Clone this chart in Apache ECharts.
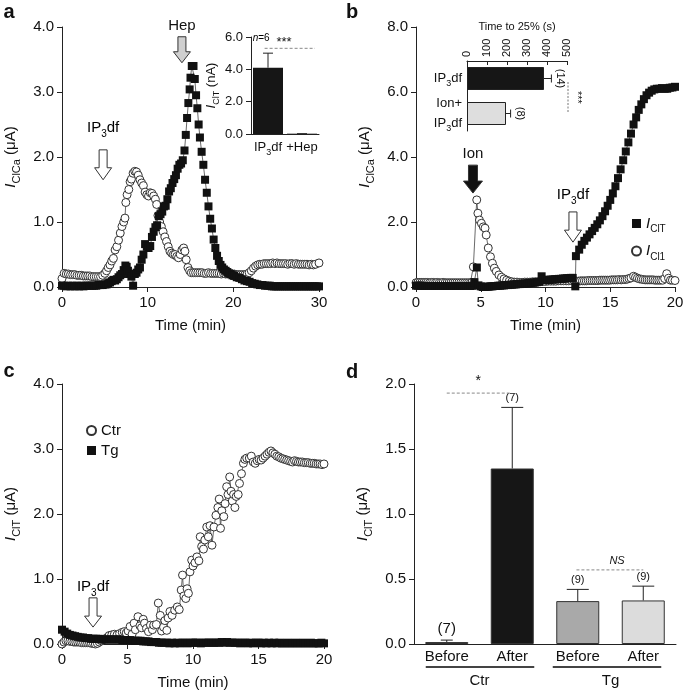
<!DOCTYPE html>
<html><head><meta charset="utf-8">
<script src="https://cdn.jsdelivr.net/npm/echarts@6/dist/echarts.min.js"></script>
<style>html,body{margin:0;padding:0;background:#fff}#c{width:685px;height:695px}</style>
</head><body><div id="c"></div>
<script>
// ---------- DATA ----------
// Panel a: open circles and filled squares (time min, current uA)
const aOpen = [[0,0.13],[0.25,0.21],[0.5,0.2],[0.75,0.2],[1,0.19],[1.25,0.19],[1.5,0.19],[1.75,0.18],[2,0.18],[2.25,0.18],[2.5,0.17],[2.75,0.17],[3,0.17],[3.25,0.17],[3.5,0.16],[3.75,0.16],[4,0.16],[4.25,0.16],[4.5,0.16],[4.75,0.18],[5,0.21],[5.2,0.25],[5.4,0.3],[5.6,0.34],[5.8,0.4],[6,0.44],[6.2,0.57],[6.4,0.62],[6.6,0.72],[6.8,0.83],[7,0.93],[7.2,1.0],[7.35,1.06],[7.45,1.3],[7.6,1.42],[7.8,1.5],[7.95,1.62],[8.1,1.66],[8.3,1.75],[8.5,1.78],[8.7,1.77],[8.9,1.72],[9.1,1.65],[9.3,1.6],[9.5,1.56],[9.7,1.46],[9.9,1.42],[10.1,1.4],[10.3,1.45],[10.5,1.44],[10.7,1.4],[10.9,1.35],[11.05,1.27],[11.2,1.1],[11.4,1.0],[11.6,0.93],[11.8,0.85],[12,0.77],[12.2,0.7],[12.4,0.62],[12.6,0.55],[12.8,0.52],[13,0.5],[13.2,0.5],[13.4,0.47],[13.6,0.45],[13.8,0.5],[14,0.57],[14.2,0.6],[14.35,0.55],[14.5,0.42],[14.7,0.3],[14.9,0.25],[15.1,0.22],[15.35,0.22],[15.6,0.22],[15.85,0.22],[16.1,0.22],[16.35,0.22],[16.6,0.21],[16.85,0.21],[17.1,0.22],[17.35,0.21],[17.6,0.21],[17.85,0.21],[18.1,0.21],[18.35,0.21],[18.6,0.2],[18.85,0.21],[19.1,0.2],[19.35,0.2],[19.6,0.2],[19.85,0.2],[20.1,0.2],[20.35,0.19],[20.6,0.19],[20.85,0.19],[21.1,0.19],[21.35,0.19],[21.6,0.2],[21.85,0.22],[22.1,0.25],[22.35,0.29],[22.6,0.32],[22.85,0.34],[23.1,0.35],[23.35,0.35],[23.6,0.36],[23.85,0.36],[24.1,0.36],[24.35,0.36],[24.6,0.37],[24.85,0.36],[25.1,0.37],[25.35,0.36],[25.6,0.36],[25.85,0.36],[26.1,0.36],[26.35,0.35],[26.6,0.36],[26.85,0.36],[27.1,0.35],[27.35,0.36],[27.6,0.35],[27.85,0.35],[28.1,0.35],[28.35,0.35],[28.6,0.35],[28.85,0.34],[29.1,0.35],[29.35,0.34],[29.6,0.35],[30,0.37]];
const aFilled = [[0,0.02],[0.25,0.02],[0.5,0.01],[0.75,0.02],[1,0.01],[1.25,0.02],[1.5,0.01],[1.75,0.02],[2,0.01],[2.25,0.02],[2.5,0.01],[2.75,0.02],[3,0.02],[3.25,0.02],[3.5,0.02],[3.75,0.02],[4,0.02],[4.25,0.03],[4.5,0.03],[4.75,0.03],[5,0.04],[5.2,0.04],[5.4,0.06],[5.6,0.07],[5.8,0.09],[6,0.11],[6.2,0.1],[6.4,0.12],[6.6,0.15],[6.8,0.18],[7,0.2],[7.2,0.26],[7.4,0.33],[7.55,0.31],[7.7,0.25],[7.9,0.2],[8.1,0.16],[8.3,0.02],[8.5,0.2],[8.7,0.22],[8.9,0.27],[9.1,0.3],[9.3,0.42],[9.5,0.5],[9.7,0.66],[9.9,0.62],[10.1,0.6],[10.3,0.63],[10.5,0.77],[10.7,0.85],[10.9,0.92],[11.1,0.95],[11.3,1.09],[11.5,1.12],[11.7,1.16],[11.9,1.24],[12.1,1.25],[12.3,1.35],[12.5,1.47],[12.7,1.52],[12.9,1.6],[13.1,1.66],[13.3,1.72],[13.5,1.82],[13.7,1.88],[13.9,1.9],[14.1,1.95],[14.3,2.1],[14.45,2.34],[14.6,2.6],[14.75,2.83],[14.9,3.04],[15.0,3.22],[15.15,3.4],[15.35,3.4],[15.5,3.2],[15.65,2.95],[15.8,2.75],[15.95,2.5],[16.1,2.3],[16.3,2.08],[16.5,1.88],[16.7,1.65],[16.9,1.45],[17.1,1.24],[17.3,1.05],[17.5,0.9],[17.7,0.73],[17.9,0.6],[18.1,0.48],[18.3,0.4],[18.5,0.34],[18.7,0.3],[18.9,0.27],[19.1,0.25],[19.3,0.23],[19.5,0.21],[19.7,0.2],[19.9,0.18],[20.1,0.17],[20.4,0.15],[20.7,0.14],[21,0.12],[21.3,0.1],[21.6,0.09],[21.9,0.08],[22.2,0.06],[22.5,0.05],[22.8,0.04],[23.1,0.03],[23.4,0.03],[23.7,0.02],[24,0.02],[24.25,0.02],[24.5,0.01],[24.75,0.01],[25,0.01],[25.25,0.01],[25.5,0.01],[25.75,0.01],[26,0.01],[26.25,0.01],[26.5,0.01],[26.75,0.01],[27,0.01],[27.25,0.01],[27.5,0.01],[27.75,0.01],[28,0.01],[28.25,0.01],[28.5,0.01],[28.75,0.01],[29,0.01],[29.25,0.01],[29.5,0.01],[29.75,0.01],[30,0.01]];
// Panel a inset (nA)
const insetACats = ['IP3df', '+Hep'];
const insetAVals = [4.1, 0.02];
const insetAErrTop = [5.0, 0.02];
// Panel b: I_Cl1 (open) and I_ClT (filled)
const bOpen = [[0,0.13],[0.15,0.14],[0.3,0.14],[0.45,0.14],[0.6,0.14],[0.75,0.14],[0.9,0.14],[1.05,0.13],[1.2,0.14],[1.35,0.14],[1.5,0.13],[1.65,0.14],[1.8,0.13],[1.95,0.13],[2.1,0.14],[2.25,0.13],[2.4,0.13],[2.55,0.13],[2.7,0.13],[2.85,0.13],[3.0,0.13],[3.15,0.13],[3.3,0.13],[3.45,0.13],[3.6,0.13],[3.75,0.13],[3.9,0.13],[4.05,0.13],[4.2,0.13],[4.32,0.14],[4.43,0.62],[4.69,2.68],[4.78,2.27],[4.9,2.06],[5.05,1.96],[5.2,1.85],[5.33,1.81],[5.42,1.6],[5.58,1.2],[5.75,0.93],[5.9,0.73],[6.05,0.58],[6.2,0.48],[6.4,0.37],[6.6,0.3],[6.8,0.25],[7.0,0.21],[7.2,0.18],[7.4,0.16],[7.6,0.15],[7.8,0.15],[8.0,0.14],[8.2,0.14],[8.4,0.15],[8.6,0.15],[8.8,0.15],[9.0,0.16],[9.2,0.16],[9.4,0.16],[9.6,0.17],[9.8,0.17],[10.0,0.17],[10.2,0.18],[10.4,0.18],[10.6,0.18],[10.8,0.18],[11.0,0.19],[11.2,0.19],[11.4,0.19],[11.6,0.19],[11.8,0.19],[12.0,0.2],[12.2,0.2],[12.4,0.18],[12.55,0.18],[12.7,0.19],[12.85,0.19],[13.0,0.19],[13.15,0.19],[13.3,0.2],[13.45,0.2],[13.6,0.2],[13.75,0.2],[13.9,0.2],[14.05,0.2],[14.2,0.21],[14.35,0.21],[14.5,0.21],[14.65,0.21],[14.8,0.21],[14.95,0.21],[15.1,0.22],[15.25,0.22],[15.4,0.22],[15.55,0.22],[15.7,0.23],[15.85,0.22],[16.0,0.23],[16.15,0.23],[16.3,0.24],[16.45,0.26],[16.6,0.28],[16.8,0.33],[16.95,0.3],[17.1,0.27],[17.25,0.25],[17.4,0.24],[17.55,0.23],[17.7,0.22],[17.85,0.22],[18.0,0.22],[18.15,0.22],[18.3,0.22],[18.45,0.21],[18.6,0.21],[18.75,0.21],[18.9,0.21],[19.05,0.21],[19.2,0.26],[19.36,0.41],[19.5,0.27],[19.65,0.21],[19.8,0.21],[20.0,0.2]];
const bFilled = [[0,0.04],[0.15,0.04],[0.3,0.04],[0.45,0.04],[0.6,0.03],[0.75,0.03],[0.9,0.03],[1.05,0.03],[1.2,0.03],[1.35,0.03],[1.5,0.03],[1.65,0.03],[1.8,0.03],[1.95,0.03],[2.1,0.03],[2.25,0.03],[2.4,0.03],[2.55,0.03],[2.7,0.03],[2.85,0.03],[3.0,0.03],[3.15,0.03],[3.3,0.03],[3.45,0.03],[3.6,0.03],[3.75,0.03],[3.9,0.03],[4.05,0.03],[4.2,0.03],[4.35,0.04],[4.5,0.15],[4.7,0.6],[4.82,0.05],[5.0,0.02],[5.15,0.0],[5.3,0.0],[5.45,0.01],[5.6,0.01],[5.75,0.02],[5.9,0.02],[6.05,0.03],[6.2,0.03],[6.35,0.04],[6.5,0.04],[6.65,0.05],[6.8,0.05],[6.95,0.06],[7.1,0.06],[7.25,0.07],[7.4,0.07],[7.55,0.08],[7.7,0.08],[7.85,0.09],[8.0,0.09],[8.15,0.1],[8.3,0.1],[8.45,0.11],[8.6,0.11],[8.75,0.12],[8.9,0.13],[9.05,0.13],[9.2,0.14],[9.35,0.15],[9.5,0.16],[9.7,0.33],[9.85,0.22],[10.0,0.21],[10.15,0.22],[10.3,0.22],[10.45,0.23],[10.6,0.23],[10.75,0.24],[10.9,0.24],[11.05,0.25],[11.2,0.25],[11.35,0.26],[11.5,0.26],[11.65,0.27],[11.8,0.27],[11.95,0.28],[12.1,0.28],[12.3,0.02],[12.35,0.95],[12.6,1.15],[12.8,1.3],[13.0,1.42],[13.2,1.52],[13.4,1.62],[13.6,1.72],[13.8,1.82],[14.0,1.93],[14.2,2.05],[14.4,2.18],[14.6,2.33],[14.8,2.5],[15.0,2.68],[15.2,2.88],[15.4,3.1],[15.6,3.35],[15.8,3.62],[16.0,3.9],[16.2,4.17],[16.4,4.45],[16.6,4.72],[16.8,5.0],[17.0,5.22],[17.2,5.45],[17.4,5.62],[17.6,5.78],[17.8,5.9],[18.0,5.98],[18.2,6.04],[18.4,6.08],[18.6,6.1],[18.8,6.1],[19.0,6.12],[19.2,6.1],[19.4,6.1],[19.6,6.13],[19.8,6.14],[20.0,6.16]];
// Panel b inset: time to 25% (s)
const insetBCats = ['IP3df', 'Ion+\nIP3df'];
const insetBVals = [385, 195];
const insetBErrTop = [422, 218];
const insetBN = ['(14)', '(8)'];
// Panel c: Ctr (open) and Tg (filled), I_ClT uA
const cOpen = [[0,0.0],[0.15,0.03],[0.3,0.05],[0.45,0.05],[0.6,0.04],[0.75,0.04],[0.9,0.03],[1.05,0.03],[1.2,0.03],[1.35,0.03],[1.5,0.02],[1.65,0.02],[1.8,0.02],[1.95,0.02],[2.1,0.02],[2.25,0.01],[2.4,0.01],[2.55,0.0],[2.7,0.01],[2.85,0.03],[3.0,0.05],[3.15,0.07],[3.3,0.08],[3.45,0.1],[3.6,0.13],[3.8,0.14],[4.0,0.15],[4.2,0.14],[4.4,0.16],[4.6,0.18],[4.75,0.19],[4.9,0.17],[5.05,0.2],[5.2,0.27],[5.35,0.15],[5.5,0.32],[5.6,0.22],[5.8,0.42],[5.95,0.28],[6.07,0.25],[6.2,0.38],[6.3,0.32],[6.45,0.24],[6.6,0.19],[6.75,0.29],[6.9,0.22],[7.0,0.29],[7.2,0.3],[7.35,0.63],[7.5,0.44],[7.6,0.2],[7.75,0.26],[7.85,0.36],[8.0,0.21],[8.1,0.4],[8.24,0.5],[8.4,0.44],[8.6,0.52],[8.8,0.57],[8.95,0.53],[9.1,0.83],[9.2,1.06],[9.3,0.74],[9.45,0.7],[9.55,0.85],[9.65,0.78],[9.77,1.11],[9.9,1.29],[10.0,1.2],[10.15,1.25],[10.3,1.34],[10.45,1.28],[10.55,1.65],[10.66,1.5],[10.8,1.46],[10.9,1.6],[11.05,1.8],[11.17,1.65],[11.3,1.82],[11.45,1.52],[11.6,1.8],[11.75,1.98],[11.9,2.1],[12.0,2.23],[12.1,1.78],[12.2,2.05],[12.35,1.96],[12.45,2.16],[12.57,2.42],[12.67,2.3],[12.8,2.57],[12.9,2.35],[13.0,2.2],[13.1,2.3],[13.2,2.1],[13.3,2.27],[13.45,2.3],[13.55,2.47],[13.7,2.62],[13.85,2.78],[13.96,2.84],[14.1,2.86],[14.3,2.86],[14.45,2.89],[14.6,2.8],[14.75,2.78],[14.9,2.82],[15.05,2.84],[15.2,2.83],[15.35,2.86],[15.5,2.89],[15.65,2.92],[15.8,2.95],[15.95,2.97],[16.1,2.94],[16.25,2.92],[16.4,2.89],[16.55,2.88],[16.7,2.86],[16.85,2.85],[17.0,2.84],[17.15,2.83],[17.3,2.82],[17.45,2.81],[17.6,2.8],[17.75,2.82],[17.9,2.81],[18.05,2.8],[18.2,2.8],[18.35,2.8],[18.5,2.79],[18.65,2.79],[18.8,2.79],[18.95,2.78],[19.1,2.78],[19.25,2.78],[19.4,2.77],[19.55,2.77],[19.7,2.77],[19.85,2.76],[20,2.77]];
const cFilled = [[0,0.22],[0.2,0.19],[0.4,0.16],[0.6,0.14],[0.8,0.13],[1.0,0.12],[1.2,0.11],[1.4,0.1],[1.6,0.1],[1.8,0.09],[2.0,0.09],[2.2,0.08],[2.4,0.08],[2.6,0.08],[2.8,0.08],[3.0,0.07],[3.2,0.07],[3.4,0.07],[3.6,0.07],[3.8,0.07],[4.0,0.07],[4.2,0.07],[4.4,0.07],[4.6,0.06],[4.8,0.06],[5.0,0.06],[5.2,0.06],[5.4,0.05],[5.6,0.05],[5.8,0.05],[6.0,0.05],[6.2,0.04],[6.4,0.04],[6.6,0.04],[6.8,0.03],[7.0,0.03],[7.2,0.03],[7.4,0.02],[7.6,0.02],[7.8,0.02],[8.0,0.02],[8.2,0.01],[8.4,0.02],[8.6,0.01],[8.8,0.02],[9.0,0.01],[9.2,0.02],[9.4,0.02],[9.6,0.01],[9.8,0.02],[10.0,0.02],[10.2,0.02],[10.4,0.02],[10.6,0.01],[10.8,0.02],[11.0,0.02],[11.2,0.02],[11.4,0.02],[11.6,0.02],[11.8,0.02],[12.0,0.02],[12.2,0.03],[12.4,0.02],[12.6,0.03],[12.8,0.02],[13.0,0.02],[13.2,0.02],[13.4,0.02],[13.6,0.01],[13.8,0.02],[14.0,0.02],[14.2,0.01],[14.4,0.02],[14.6,0.01],[14.8,0.02],[15.0,0.02],[15.2,0.01],[15.4,0.02],[15.6,0.01],[15.8,0.02],[16.0,0.01],[16.2,0.02],[16.4,0.01],[16.6,0.02],[16.8,0.01],[17.0,0.01],[17.2,0.02],[17.4,0.01],[17.6,0.01],[17.8,0.02],[18.0,0.01],[18.2,0.01],[18.4,0.02],[18.6,0.01],[18.8,0.01],[19.0,0.02],[19.2,0.01],[19.4,0.01],[19.6,0.01],[19.8,0.02],[20.0,0.01]];
// Panel d: I_ClT bars
const dCats = ['Before', 'After', 'Before', 'After'];
const dGroups = ['Ctr', 'Tg'];
const dVals = [0.015, 1.35, 0.33, 0.335];
const dErrTop = [0.03, 1.82, 0.42, 0.445];
const dN = ['(7)', '(7)', '(9)', '(9)'];

// ---------- STYLE ----------
const F = "'Liberation Sans', Arial, Helvetica, sans-serif";
const INK = '#111';
const AX = '#222';
const dColors = ['#6a6a6a', '#161616', '#a9a9a9', '#dcdcdc'];
const insetBColors = ['#161616', '#dedede'];

function richSet(fs, sfs) {
  const lh = fs + 7;
  return {
    n: {fontSize: fs, fontFamily: F, color: INK, lineHeight: lh, verticalAlign: 'middle'},
    i: {fontSize: fs, fontFamily: F, color: INK, fontStyle: 'italic', lineHeight: lh, verticalAlign: 'middle'},
    s: {fontSize: sfs, fontFamily: F, color: INK, lineHeight: lh, verticalAlign: 'bottom'}
  };
}
function sub3(str) {
  return String(str).split('\n').map(function (line) {
    const k = line.indexOf('P3');
    if (k < 0) return '{n|' + line + '}';
    return '{n|' + line.slice(0, k + 1) + '}{s|3}' + (line.slice(k + 2) ? '{n|' + line.slice(k + 2) + '}' : '');
  }).join('\n');
}
function curName(sub, unit) { return '{i|I}{s|' + sub + '}{n| (' + unit + ')}'; }

const axisLineS = {show: true, onZero: false, lineStyle: {color: AX, width: 1}};
const tickS = {show: true, inside: false, length: 5, lineStyle: {color: AX, width: 1}};
function numLabel(fs, dec) {
  return {fontSize: fs, fontFamily: F, color: INK, margin: 8, formatter: function (v) { return dec ? Number(v).toFixed(dec) : String(v); }};
}
function timeAxis(g, max, interval) {
  return {gridIndex: g, type: 'value', min: 0, max: max, interval: interval,
    axisLine: axisLineS, axisTick: tickS, splitLine: {show: false},
    axisLabel: numLabel(15, 0),
    name: 'Time (min)', nameLocation: 'middle', nameGap: 31,
    nameTextStyle: {fontSize: 15, fontFamily: F, color: INK}};
}
function curAxis(g, max, interval, sub, unit, fs, gap) {
  return {gridIndex: g, type: 'value', min: 0, max: max, interval: interval,
    axisLine: axisLineS, axisTick: tickS, splitLine: {show: false},
    axisLabel: numLabel(fs, 1),
    name: curName(sub, unit), nameLocation: 'middle', nameRotate: 90, nameGap: gap,
    nameTextStyle: {rich: richSet(fs, Math.round(fs * 0.7))}};
}
function pointSeries(name, data, x, y, open, size) {
  return {name: name, type: 'line', xAxisIndex: x, yAxisIndex: y, data: data,
    symbol: open ? 'circle' : 'rect', symbolSize: size, showSymbol: true, showAllSymbol: true,
    lineStyle: {color: '#444', width: 0.8},
    itemStyle: open ? {color: '#ffffff', borderColor: '#333', borderWidth: 1} : {color: '#111', borderColor: '#111', borderWidth: 0},
    emphasis: {disabled: true}, z: open ? 2 : 3};
}
function errRender(capHalf, horizontal) {
  return function (params, api) {
    let p0, p1, cap;
    if (!horizontal) {
      p0 = api.coord([api.value(0), api.value(1)]);
      p1 = api.coord([api.value(0), api.value(2)]);
      cap = {x1: p1[0] - capHalf, y1: p1[1], x2: p1[0] + capHalf, y2: p1[1]};
    } else {
      p0 = api.coord([api.value(0), api.value(1)]);
      p1 = api.coord([api.value(2), api.value(1)]);
      cap = {x1: p1[0], y1: p1[1] - capHalf, x2: p1[0], y2: p1[1] + capHalf};
    }
    const st = {stroke: '#222', lineWidth: 1};
    return {type: 'group', children: [
      {type: 'line', shape: {x1: p0[0], y1: p0[1], x2: p1[0], y2: p1[1]}, style: st},
      {type: 'line', shape: cap, style: st}
    ]};
  };
}

const chart = echarts.init(document.getElementById('c'), null, {renderer: 'canvas'});
const G = (l, t, w, h) => ({left: l, top: t, width: w, height: h, containLabel: false, outerBoundsMode: 'none'});

const option = {
  animation: false,
  backgroundColor: '#fff',
  textStyle: {fontFamily: F},
  grid: [G(62, 27, 257, 260), G(251, 37, 68, 97), G(416, 27, 259, 260), G(467, 61, 100, 70), G(62, 384, 262, 260), G(414, 384, 262, 260)],
  xAxis: [
    timeAxis(0, 30, 10),
    {gridIndex: 1, type: 'category', data: insetACats, axisLine: axisLineS, axisTick: {show: false},
      axisLabel: {margin: 3, interval: 0, hideOverlap: false, formatter: sub3, rich: richSet(13, 9)}},
    timeAxis(2, 20, 5),
    {gridIndex: 3, type: 'value', position: 'top', min: 0, max: 500, interval: 100,
      axisLine: axisLineS, axisTick: {show: true, inside: true, length: 4, lineStyle: {color: AX}}, splitLine: {show: false},
      axisLabel: {rotate: -90, fontSize: 11, fontFamily: F, color: INK, margin: 4},
      name: 'Time to 25% (s)', nameLocation: 'middle', nameGap: 29, nameTextStyle: {fontSize: 11, fontFamily: F, color: INK}},
    timeAxis(4, 20, 5),
    {gridIndex: 5, type: 'category', data: dCats, axisLine: axisLineS, axisTick: {show: false},
      axisLabel: {fontSize: 15, fontFamily: F, color: INK, margin: 5, interval: 0}}
  ],
  yAxis: [
    curAxis(0, 4, 1, 'ClCa', 'μA', 15, 40),
    curAxis(1, 6, 2, 'ClT', 'nA', 13, 30),
    curAxis(2, 8, 2, 'ClCa', 'μA', 15, 40),
    {gridIndex: 3, type: 'category', data: insetBCats, inverse: true, axisLine: axisLineS, axisTick: {show: false},
      axisLabel: {margin: 5, interval: 0, formatter: sub3, rich: richSet(13, 9)}},
    curAxis(4, 4, 1, 'ClT', 'μA', 15, 40),
    curAxis(5, 2, 0.5, 'ClT', 'μA', 15, 40)
  ],
  legend: [
    {left: 626, top: 211, orient: 'vertical', itemWidth: 9, itemHeight: 9, itemGap: 9,
      data: [{name: 'ClT', icon: 'rect'}, {name: 'Cl1', icon: 'circle'}],
      formatter: function (n) { return '{i|I}{s|' + n + '}'; },
      textStyle: {rich: richSet(15, 10)}},
    {left: 81, top: 418, orient: 'vertical', itemWidth: 9, itemHeight: 9, itemGap: 5,
      data: [{name: 'Ctr', icon: 'circle'}, {name: 'Tg', icon: 'rect'}],
      textStyle: {fontSize: 15, fontFamily: F, color: INK}}
  ],
  series: [
    pointSeries('aOpen', aOpen, 0, 0, true, 8),
    pointSeries('aFilled', aFilled, 0, 0, false, 8),
    {type: 'bar', xAxisIndex: 1, yAxisIndex: 1, data: insetAVals, barWidth: 30, itemStyle: {color: '#161616'}, z: 3},
    {type: 'custom', xAxisIndex: 1, yAxisIndex: 1, renderItem: errRender(5, false), encode: {x: 0, y: 1},
      data: insetAVals.map((v, i) => [i, v, insetAErrTop[i]]), z: 4},
    pointSeries('Cl1', bOpen, 2, 2, true, 8),
    pointSeries('ClT', bFilled, 2, 2, false, 8),
    {type: 'bar', xAxisIndex: 3, yAxisIndex: 3, barWidth: 23,
      data: insetBVals.map((v, i) => ({value: v, itemStyle: {color: insetBColors[i], borderColor: '#222', borderWidth: 1}})), z: 3},
    {type: 'custom', xAxisIndex: 3, yAxisIndex: 3, renderItem: errRender(4, true), encode: {x: 0, y: 1},
      data: insetBVals.map((v, i) => [v, i, insetBErrTop[i]]), z: 4},
    pointSeries('Ctr', cOpen, 4, 4, true, 8),
    pointSeries('Tg', cFilled, 4, 4, false, 8),
    {type: 'bar', xAxisIndex: 5, yAxisIndex: 5, barWidth: 43,
      data: dVals.map((v, i) => ({value: v, itemStyle: {color: dColors[i], borderColor: '#333', borderWidth: 1}})), z: 3},
    {type: 'custom', xAxisIndex: 5, yAxisIndex: 5, encode: {x: 0, y: 1},
      renderItem: function (params, api) { return errRender(params.dataIndex === 0 ? 6 : 11, false)(params, api); },
      data: dVals.map((v, i) => [i, v, dErrTop[i]]), z: 4}
  ]
};
chart.setOption(option);

// ---------- ANNOTATIONS ----------
const P = (s, v) => chart.convertToPixel({seriesIndex: s}, v);
function PC(s, c, y) {
  const a = P(s, [Math.floor(c), y]), b = P(s, [Math.ceil(c), y]);
  const f = c - Math.floor(c);
  return [a[0] + (b[0] - a[0]) * f, a[1] + (b[1] - a[1]) * f];
}
function PCy(s, x, c) {
  const a = P(s, [x, Math.floor(c)]), b = P(s, [x, Math.ceil(c)]);
  const f = c - Math.floor(c);
  return [a[0] + (b[0] - a[0]) * f, a[1] + (b[1] - a[1]) * f];
}
function arrow(cx, yTop, yTip, shaftW, headW, headH, fill) {
  const hs = shaftW / 2, hh = headW / 2, yb = yTip - headH;
  return {type: 'polygon', z: 100, shape: {points: [[cx - hs, yTop], [cx + hs, yTop], [cx + hs, yb], [cx + hh, yb], [cx, yTip], [cx - hh, yb], [cx - hs, yb]]},
    style: {fill: fill, stroke: '#333', lineWidth: 1}};
}
function txt(x, y, text, fs, extra) {
  const st = Object.assign({text: text, fontSize: fs, fontFamily: F, fill: INK, align: 'center', verticalAlign: 'middle'}, extra || {});
  return {type: 'text', z: 100, x: x, y: y, style: st};
}
function rtxt(x, y, rich, fs, sfs, rot) {
  return {type: 'text', z: 100, x: x, y: y, rotation: rot || 0,
    style: {text: rich, rich: richSet(fs, sfs), align: 'center', verticalAlign: 'middle'}};
}
function hline(x1, x2, y, dash, color, w) {
  return {type: 'line', z: 100, shape: {x1: x1, y1: y, x2: x2, y2: y}, style: {stroke: color || '#888', lineWidth: w || 1, lineDash: dash ? [3, 2] : null}};
}
function vline(x, y1, y2, dash, color) {
  return {type: 'line', z: 100, shape: {x1: x, y1: y1, x2: x, y2: y2}, style: {stroke: color || '#888', lineWidth: 1, lineDash: dash ? [2, 1.5] : null}};
}
const g = [];
// panel letters
g.push(txt(9, 12, 'a', 20, {fontWeight: 'bold'}), txt(352, 12, 'b', 20, {fontWeight: 'bold'}),
  txt(9, 371, 'c', 20, {fontWeight: 'bold'}), txt(352, 372, 'd', 20, {fontWeight: 'bold'}));
// panel a arrows
let p = P(0, [4.8, 2.45]); g.push(rtxt(p[0], p[1], sub3('IP3df'), 15, 10));
let t0 = P(0, [4.8, 2.11]), t1 = P(0, [4.8, 1.65]); g.push(arrow(t0[0], t0[1], t1[1], 8, 17, 12, '#fff'));
p = P(0, [14.0, 4.02]); g.push(txt(p[0], p[1], 'Hep', 15));
t0 = P(0, [14.0, 3.85]); t1 = P(0, [14.0, 3.45]); g.push(arrow(t0[0], t0[1], t1[1], 8, 17, 11, '#cfcfcf'));
// inset a annotations
p = PC(2, -0.45, 6); g.push({type: 'text', z: 100, x: p[0], y: p[1] + 1, style: {text: '{i|n}{n|=6}', rich: richSet(10, 8), align: 'left', verticalAlign: 'middle'}});
t0 = PC(2, -0.1, 5.3); t1 = PC(2, 1.38, 5.3); g.push(hline(t0[0], t1[0], t0[1], true, '#888'));
p = PC(2, 0.47, 5.65); g.push(txt(p[0], p[1], '***', 13));
// panel b arrows
p = P(4, [4.4, 4.09]); g.push(txt(p[0], p[1], 'Ion', 15));
t0 = P(4, [4.4, 3.75]); t1 = P(4, [4.4, 2.89]); g.push(arrow(t0[0], t0[1], t1[1], 9, 19, 12, '#111'));
p = P(4, [12.12, 2.83]); g.push(rtxt(p[0], p[1], sub3('IP3df'), 15, 10));
t0 = P(4, [12.12, 2.31]); t1 = P(4, [12.12, 1.38]); g.push(arrow(t0[0], t0[1], t1[1], 8, 17, 12, '#fff'));
// inset b annotations
insetBN.forEach(function (s, i) {
  const q = P(6, [insetBErrTop[i], i]);
  g.push({type: 'text', z: 100, x: q[0] + 9, y: q[1], rotation: -Math.PI / 2, style: {text: s, fontSize: 11, fontFamily: F, fill: INK, align: 'center', verticalAlign: 'middle'}});
});
t0 = PCy(6, 505, 0.1); t1 = PCy(6, 505, 0.98); g.push(vline(t0[0], t0[1], t1[1], true, '#777'));
g.push({type: 'text', z: 100, x: t0[0] + 9, y: (t0[1] + t1[1]) / 2, rotation: -Math.PI / 2, style: {text: '***', fontSize: 11, fontFamily: F, fill: INK, align: 'center', verticalAlign: 'middle'}});
// panel c arrow
p = P(8, [2.37, 0.88]); g.push(rtxt(p[0], p[1], sub3('IP3df'), 15, 10));
t0 = P(8, [2.37, 0.71]); t1 = P(8, [2.37, 0.26]); g.push(arrow(t0[0], t0[1], t1[1], 8, 17, 11, '#fff'));
// panel d annotations
dN.forEach(function (s, i) {
  const q = P(10, [i, dErrTop[i]]);
  const big = i === 0;
  g.push(txt(q[0], q[1] - (big ? 11 : 9), s, big ? 15 : 11));
});
t0 = PC(10, 0, 1.93); t1 = PC(10, 0.98, 1.93); g.push(hline(t0[0], t1[0], t0[1], true, '#888'));
p = PC(10, 0.48, 2.02); g.push(txt(p[0], p[1], '*', 14));
t0 = PC(10, 1.98, 0.57); t1 = PC(10, 3.0, 0.57); g.push(hline(t0[0], t1[0], t0[1], true, '#888'));
p = PC(10, 2.6, 0.64); g.push(txt(p[0], p[1], 'NS', 11, {fontStyle: 'italic'}));
const c0 = P(10, [0, 0]), c1 = P(10, [1, 0]), c2 = P(10, [2, 0]), c3 = P(10, [3, 0]);
g.push(hline(c0[0] - 21, c1[0] + 22, c0[1] + 23, false, '#444', 2));
g.push(hline(c2[0] - 25, c3[0] + 18, c0[1] + 23, false, '#444', 2));
g.push(txt((c0[0] + c1[0]) / 2, c0[1] + 37, dGroups[0], 15));
g.push(txt((c2[0] + c3[0]) / 2, c0[1] + 37, dGroups[1], 15));
chart.setOption({graphic: g});
</script></body></html>
